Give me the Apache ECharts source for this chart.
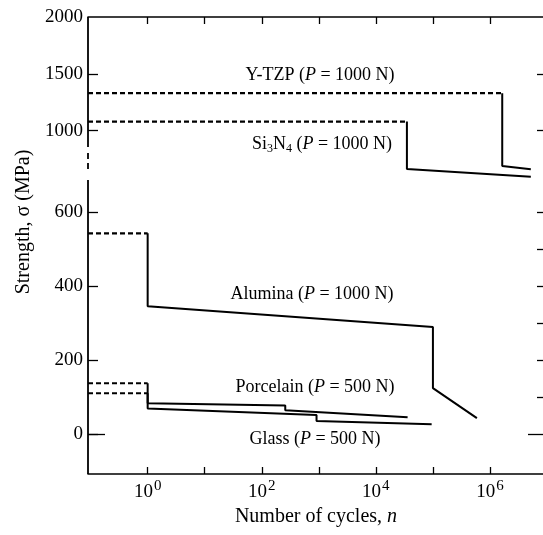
<!DOCTYPE html>
<html>
<head>
<meta charset="utf-8">
<script src="https://cdn.jsdelivr.net/npm/echarts@6.0.0/dist/echarts.min.js"></script>
<style>
  body { margin: 0; background: #fff; }
  #chart { width: 543px; height: 535px; }
</style>
</head>
<body>
<div id="chart"></div>
<script>
// axes
const xMinN = 0.09, xMaxN = 8.5e6;
const xTickValues = [1, 10, 100, 1e3, 1e4, 1e5, 1e6];
const xLabelValues = [1, 100, 1e4, 1e6];
const lowMin = -108, lowMax = 1126;          // lower part of the broken axis
const upMin = -2019, upMax = 2000;           // upper part of the broken axis
const lowLabelValues = [0, 200, 400, 600];
const lowRightTicks = [100, 200, 300, 400, 500, 600];
const upLabelValues = [1000, 1500, 2000];
const upTickValues = [1000, 1500];
const breakUpperEnd = 857;   // where the left spine stops (upper scale)
const breakLowerStart = 686; // where it starts again (lower scale)

// Y-TZP (P = 1000 N)
const ytzpDashN = [0.09, 1.64e6];
const ytzpDashS = [1330, 1330];
const ytzpSolidN = [1.64e6, 5.2e6];
const ytzpSolidS = [690, 661];

// Si3N4 (P = 1000 N)
const si3n4DashN = [0.09, 3.5e4];
const si3n4DashS = [1080, 1080];
const si3n4SolidN = [3.5e4, 5.2e6];
const si3n4SolidS = [663, 596];

// Alumina (P = 1000 N)
const aluminaDashN = [0.09, 1];
const aluminaDashS = [542, 542];
const aluminaSolidN = [1, 1.0e5, 1.0e5, 5.9e5];
const aluminaSolidS = [345, 289, 124, 43];

// Porcelain (P = 500 N)
const porcelainDashN = [0.09, 1];
const porcelainDashS = [137, 137];
const porcelainSolidN = [1, 258, 258, 3.6e4];
const porcelainSolidS = [83, 77, 64, 45];

// Glass (P = 500 N)
const glassDashN = [0.09, 1];
const glassDashS = [110, 110];
const glassSolidN = [1, 912, 912, 9.5e4];
const glassSolidS = [69, 51, 35, 26];

const serif = '"Liberation Serif", "Times New Roman", serif';
const chart = echarts.init(document.getElementById('chart'));

function pairs(ns, ss) {
  return ns.map((n, i) => [n, ss[i]]);
}

function material(name, dashN, dashS, solidN, solidS, yIdx) {
  const last = dashN.length - 1;
  return [
    {
      name: name + ' (dashed)', type: 'line', yAxisIndex: yIdx,
      data: pairs(dashN, dashS), symbol: 'none', silent: true,
      lineStyle: { color: '#000', width: 2.2, type: [5, 3] }
    },
    {
      name: name, type: 'line', yAxisIndex: yIdx,
      data: [[dashN[last], dashS[last]]].concat(pairs(solidN, solidS)),
      symbol: 'none', silent: true,
      lineStyle: { color: '#000', width: 2 }
    }
  ];
}

const labelStyle = { color: '#000', fontFamily: serif, fontSize: 19 };

function yAxisDef(pos, min, max, ticks, tickLen, labels) {
  return {
    type: 'value', position: pos, min: min, max: max,
    axisLine: { show: false, onZero: false },
    splitLine: { show: false },
    axisTick: { show: ticks.length > 0, inside: true, length: tickLen, customValues: ticks,
      lineStyle: { color: '#000', width: 1.3 } },
    axisLabel: labels
      ? Object.assign({ show: true, margin: 5, customValues: labels, formatter: v => String(v) }, labelStyle)
      : { show: false }
  };
}

const xAxisCommon = {
  type: 'log', logBase: 10, min: xMinN, max: xMaxN,
  splitLine: { show: false },
  axisLine: { show: true, onZero: false, lineStyle: { color: '#000', width: 1.6 } },
  axisTick: { inside: true, length: 7, customValues: xTickValues, lineStyle: { color: '#000', width: 1.3 } }
};

const rich = {
  n: { fontFamily: serif, fontSize: 18, color: '#000' },
  i: { fontFamily: serif, fontSize: 18, color: '#000', fontStyle: 'italic' },
  sub: { fontFamily: serif, fontSize: 12, color: '#000', padding: [9, 0, 0, 0] }
};

function note(text, x, y) {
  return {
    type: 'text', x: x, y: y, silent: true,
    style: { text: text, rich: rich, align: 'center', verticalAlign: 'middle',
      fontFamily: serif, fontSize: 18, fill: '#000' }
  };
}

const options = {
  animation: false,
  backgroundColor: '#fff',
  grid: { left: 88, right: 0, top: 17, bottom: 61 },
  xAxis: [
    Object.assign({}, xAxisCommon, {
      position: 'bottom',
      axisLabel: {
        customValues: xLabelValues, margin: 5,
        formatter: v => '{b|10}{sup|' + Math.round(Math.log10(v)) + '}',
        rich: {
          b: { fontFamily: serif, fontSize: 19, color: '#000' },
          sup: { fontFamily: serif, fontSize: 15, color: '#000', padding: [0, 0, 12, 1] }
        }
      }
    }),
    Object.assign({}, xAxisCommon, { position: 'top', axisLabel: { show: false } })
  ],
  yAxis: [
    yAxisDef('left', lowMin, lowMax, lowLabelValues, 10, lowLabelValues),
    yAxisDef('left', upMin, upMax, upTickValues, 10, upLabelValues),
    yAxisDef('left', lowMin, lowMax, [0], 17, null),
    yAxisDef('right', lowMin, lowMax, lowRightTicks, 6, null),
    yAxisDef('right', upMin, upMax, upTickValues, 6, null),
    yAxisDef('right', lowMin, lowMax, [0], 15, null)
  ],
  series: [].concat(
    material('Y-TZP', ytzpDashN, ytzpDashS, ytzpSolidN, ytzpSolidS, 1),
    material('Si3N4', si3n4DashN, si3n4DashS, si3n4SolidN, si3n4SolidS, 1),
    material('Alumina', aluminaDashN, aluminaDashS, aluminaSolidN, aluminaSolidS, 0),
    material('Porcelain', porcelainDashN, porcelainDashS, porcelainSolidN, porcelainSolidS, 0),
    material('Glass', glassDashN, glassDashS, glassSolidN, glassSolidS, 0)
  ),
  graphic: [
    note('{n|Y-TZP (}{i|P}{n| = 1000 N)}', 320, 75),
    note('{n|Si}{sub|3}{n|N}{sub|4}{n| (}{i|P}{n| = 1000 N)}', 322, 144),
    note('{n|Alumina (}{i|P}{n| = 1000 N)}', 312, 294),
    note('{n|Porcelain (}{i|P}{n| = 500 N)}', 315, 387),
    note('{n|Glass (}{i|P}{n| = 500 N)}', 315, 439),
    {
      type: 'text', x: 316, y: 517, silent: true,
      style: { text: '{n|Number of cycles, }{i|n}', align: 'center', verticalAlign: 'middle',
        rich: {
          n: { fontFamily: serif, fontSize: 20, color: '#000' },
          i: { fontFamily: serif, fontSize: 20, color: '#000', fontStyle: 'italic' }
        } }
    },
    {
      type: 'text', x: 24, y: 222, rotation: Math.PI / 2, silent: true,
      style: { text: 'Strength, σ (MPa)', align: 'center', verticalAlign: 'middle',
        fontFamily: serif, fontSize: 20, fill: '#000' }
    }
  ]
};

chart.setOption(options);

// left spine with the break, placed through the axes' own scales
const xL = chart.convertToPixel({ xAxisIndex: 0 }, xMinN);
const yTop = chart.convertToPixel({ yAxisIndex: 1 }, upMax);
const yBreak1 = chart.convertToPixel({ yAxisIndex: 1 }, breakUpperEnd);
const yBreak2 = chart.convertToPixel({ yAxisIndex: 0 }, breakLowerStart);
const yBottom = chart.convertToPixel({ yAxisIndex: 0 }, lowMin);
const spineStyle = { stroke: '#000', lineWidth: 1.8 };
chart.setOption({
  graphic: options.graphic.concat([
    { type: 'line', silent: true, shape: { x1: xL, y1: yTop, x2: xL, y2: yBreak1 }, style: spineStyle },
    { type: 'line', silent: true, shape: { x1: xL, y1: yBreak1 + 6, x2: xL, y2: yBreak2 - 7 },
      style: { stroke: '#000', lineWidth: 1.8, lineDash: [6, 4] } },
    { type: 'line', silent: true, shape: { x1: xL, y1: yBreak2, x2: xL, y2: yBottom }, style: spineStyle }
  ])
});

window.addEventListener('resize', () => {
  chart.resize();
});
</script>
</body>
</html>
